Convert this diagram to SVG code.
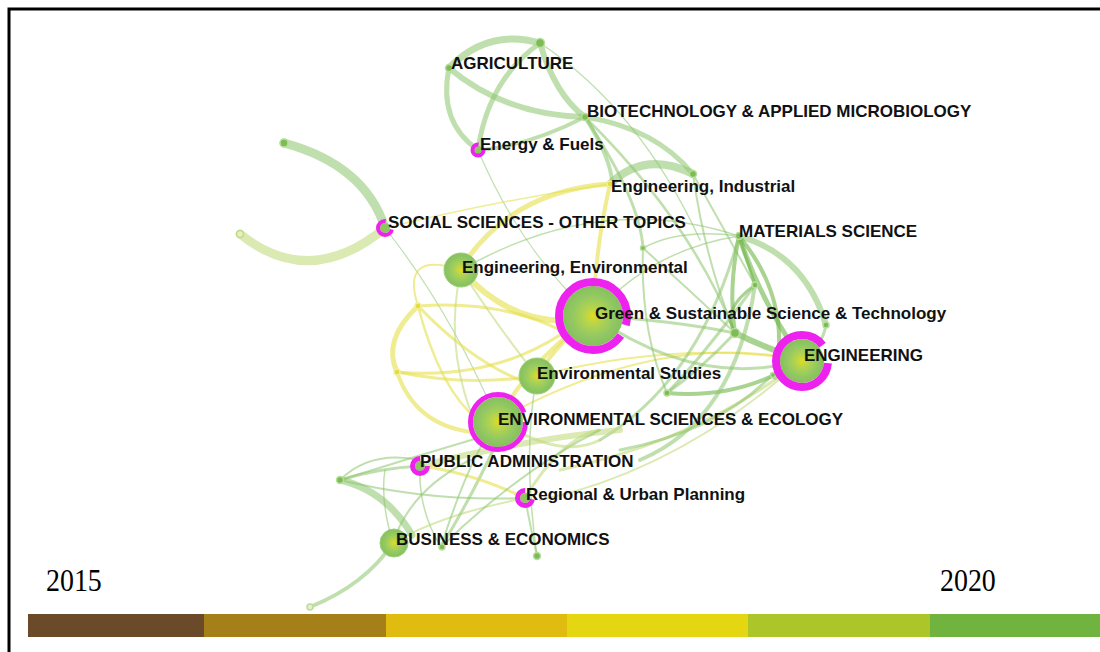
<svg xmlns="http://www.w3.org/2000/svg" width="1100" height="652" viewBox="0 0 1100 652">
<style>
.lbl{font-family:"Liberation Sans",Arial,sans-serif;font-weight:bold;font-size:17px;fill:#111}
.yr{font-family:"Liberation Serif","Times New Roman",serif;font-size:31px;fill:#000}
.g{fill:none;stroke:#8cc46b;stroke-opacity:.55;stroke-linecap:round}
.gd{fill:none;stroke:#6fb548;stroke-opacity:.6;stroke-linecap:round}
.y{fill:none;stroke:#e6df4a;stroke-opacity:.6;stroke-linecap:round}
.yg{fill:none;stroke:#c3da7e;stroke-opacity:.6;stroke-linecap:round}
.dot{fill:#7cbc55;stroke:#b9dd9c;stroke-width:1.5}
.ydot{fill:#e2dc3c;stroke:#f3ef9a;stroke-width:1.5}
.ring{fill:none;stroke:#ee22ee}
</style>
<defs>
<radialGradient id="ng" cx="50%" cy="50%" r="50%">
<stop offset="0" stop-color="#e0dc20"/>
<stop offset="0.3" stop-color="#b4d44e"/>
<stop offset="0.7" stop-color="#92c863"/>
<stop offset="1" stop-color="#86c05c"/>
</radialGradient>
</defs>
<rect x="0" y="0" width="1100" height="652" fill="#fff"/>
<path d="M9,652 V9 H1100" fill="none" stroke="#000" stroke-width="3"/>

<g id="connectors">
<path class="g" stroke-width="7" d="M449,68 Q488,28 540,43"/>
<path class="g" stroke-width="6" d="M449,68 Q505,115 585,117"/>
<path class="g" stroke-width="5" d="M449,68 Q438,122 478,150"/>
<path class="g" stroke-width="5" d="M540,43 Q488,80 478,150"/>
<path class="g" stroke-width="6" d="M540,43 Q555,95 585,117"/>
<path class="g" stroke-width="4" d="M585,117 Q530,145 482,150"/>
<path class="g" stroke-width="5" d="M585,117 Q655,128 693,174"/>
<path class="g" stroke-width="8" d="M610,184 Q645,150 693,174"/>
<path class="g" stroke-width="4" d="M585,117 Q612,160 612,184"/>
<path class="g" stroke-width="3" d="M585,117 Q640,200 643,248"/>
<path class="g" stroke-width="2.5" d="M585,117 Q690,220 735,333"/>
<path class="g" stroke-width="2" d="M693,174 Q705,260 735,333"/>
<path class="g" stroke-width="2" d="M693,174 Q730,240 755,285"/>
<path class="g" stroke-width="1.5" d="M540,43 Q640,110 700,240"/>
<path class="g" stroke-width="1.2" d="M478,150 Q520,250 593,316"/>
<path class="g" stroke-width="1.2" d="M385,228 Q450,310 497,420"/>
<path class="g" stroke-width="9" d="M284,143 Q365,165 385,228"/>
<path class="yg" stroke-width="9" d="M240,234 Q310,290 385,228"/>

<path class="y" stroke-width="5" d="M610,184 Q515,190 465,262"/>
<path class="y" stroke-width="4" d="M610,184 Q595,250 593,316"/>
<path class="y" stroke-width="6" d="M461,270 Q520,335 593,316"/>
<path class="y" stroke-width="5" d="M418,306 Q382,340 397,372"/>
<path class="y" stroke-width="4" d="M397,372 Q415,425 472,432"/>
<path class="y" stroke-width="3" d="M418,306 Q500,300 560,330"/>
<path class="y" stroke-width="3" d="M418,306 Q470,360 520,380"/>
<path class="y" stroke-width="2.5" d="M418,306 Q440,390 478,420"/>
<path class="y" stroke-width="3" d="M397,372 Q490,380 560,335"/>
<path class="y" stroke-width="3" d="M397,372 Q460,385 520,378"/>
<path class="y" stroke-width="2" d="M418,306 Q400,250 461,270"/>
<path class="yg" stroke-width="2" d="M461,270 Q445,340 470,410"/>
<path class="yg" stroke-width="2" d="M461,270 Q500,330 537,376"/>
<path class="y" stroke-width="4" d="M537,376 Q560,340 593,316"/>
<path class="y" stroke-width="4" d="M498,420 Q530,360 593,316"/>
<path class="y" stroke-width="2" d="M498,420 Q660,330 802,360"/>
<path class="y" stroke-width="2" d="M537,376 Q680,340 802,360"/>
<path class="y" stroke-width="1.5" d="M385,228 Q500,200 610,184"/>
<path class="g" stroke-width="3" d="M593,316 Q700,390 802,360"/>
<path class="g" stroke-width="1.5" d="M461,270 Q600,190 739,236"/>
<path class="g" stroke-width="1.5" d="M593,316 Q650,250 739,236"/>

<path class="gd" stroke-width="5" d="M739,236 Q760,300 802,360"/>
<path class="g" stroke-width="6" d="M739,236 Q805,255 826,325"/>
<path class="gd" stroke-width="4" d="M739,236 Q728,290 735,333"/>
<path class="gd" stroke-width="3" d="M739,236 Q750,270 755,285"/>
<path class="gd" stroke-width="4" d="M739,236 Q792,300 775,378"/>
<path class="gd" stroke-width="3" d="M755,285 Q720,310 735,333"/>
<path class="gd" stroke-width="6" d="M735,333 Q770,350 802,360"/>
<path class="g" stroke-width="3" d="M755,285 Q700,360 667,393"/>
<path class="g" stroke-width="3" d="M735,333 Q700,370 667,393"/>
<path class="gd" stroke-width="4" d="M667,393 Q740,400 802,360"/>
<path class="g" stroke-width="2" d="M643,248 Q700,300 735,333"/>
<path class="g" stroke-width="1.5" d="M739,236 Q680,228 643,248"/>
<path class="g" stroke-width="3" d="M593,316 Q670,320 735,333"/>
<path class="g" stroke-width="3" d="M826,325 Q822,347 802,360"/>
<path class="g" stroke-width="3" d="M739,236 Q700,380 600,440"/>
<path class="g" stroke-width="4" d="M755,285 Q735,420 640,460"/>
<path class="g" stroke-width="2" d="M643,248 Q640,330 667,393"/>
<path class="yg" stroke-width="3" d="M802,360 Q700,440 560,470"/>
<path class="g" stroke-width="3" d="M773,374 Q720,430 620,450"/>
<path class="yg" stroke-width="2" d="M802,360 Q680,470 540,500"/>

<path class="g" stroke-width="3" d="M340,480 Q380,468 420,466"/>
<path class="g" stroke-width="7" d="M340,480 Q385,490 412,535"/>
<path class="g" stroke-width="2" d="M340,480 Q420,455 498,432"/>
<path class="g" stroke-width="2" d="M340,480 Q430,502 525,498"/>
<path class="g" stroke-width="2" d="M340,480 Q370,450 420,460"/>
<path class="g" stroke-width="1.5" d="M420,466 Q418,510 441,547"/>
<path class="g" stroke-width="4" d="M393,543 Q365,585 310,607"/>
<path class="yg" stroke-width="2" d="M393,543 Q440,515 525,498"/>
<path class="g" stroke-width="3" d="M441,547 Q470,500 498,440"/>
<path class="g" stroke-width="2" d="M537,556 Q530,525 525,498"/>
<path class="y" stroke-width="3" d="M420,466 Q470,472 525,498"/>
<path class="yg" stroke-width="6" d="M420,466 Q520,440 620,430"/>
<path class="g" stroke-width="2" d="M393,543 Q410,490 470,460"/>
<path class="yg" stroke-width="3" d="M525,498 Q560,440 598,430"/>
<path class="g" stroke-width="2" d="M498,420 Q470,455 441,547"/>
<path class="g" stroke-width="1.5" d="M537,376 Q522,450 537,556"/>
<path class="g" stroke-width="2" d="M441,547 Q520,470 600,430"/>
<path class="g" stroke-width="1.5" d="M393,543 Q380,500 385,470"/>
<path class="yg" stroke-width="3" d="M498,420 Q560,460 600,440"/>
</g>

<g id="n-top"><circle class="dot" cx="540" cy="43" r="4.5"/></g>
<g id="n-farl"><circle class="dot" cx="284" cy="143" r="4"/></g>
<g id="n-farl2"><circle cx="240" cy="234" r="3.5" fill="#e6f0c8" stroke="#c3da7e" stroke-width="1.5"/></g>
<g id="n-ei2"><circle class="dot" cx="693" cy="174" r="3.5"/></g>
<g id="n-s1"><circle class="dot" cx="643" cy="248" r="2.5"/></g>
<g id="n-s2"><circle class="dot" cx="755" cy="285" r="3"/></g>
<g id="n-s3"><circle class="dot" cx="735" cy="333" r="4.5"/></g>
<g id="n-s4"><circle class="dot" cx="826" cy="325" r="3"/></g>
<g id="n-s5"><circle class="dot" cx="773" cy="375" r="2.5"/></g>
<g id="n-s6"><circle class="dot" cx="667" cy="393" r="3"/></g>
<g id="n-y1"><circle class="ydot" cx="418" cy="306" r="3"/></g>
<g id="n-y2"><circle class="ydot" cx="397" cy="372" r="3"/></g>
<g id="n-b1"><circle class="dot" cx="340" cy="480" r="3.5"/></g>
<g id="n-b2"><circle class="dot" cx="442" cy="547" r="3"/></g>
<g id="n-b3"><circle class="dot" cx="537" cy="556" r="3.5"/></g>
<g id="n-b4"><circle cx="310" cy="607" r="3" fill="#e6f0c8" stroke="#b9dd9c" stroke-width="1.5"/></g>

<g id="n-agriculture">
<circle class="dot" cx="449" cy="68" r="3.5"/>
<text class="lbl" x="451" y="69">AGRICULTURE</text>
</g>
<g id="n-biotech">
<circle class="dot" cx="585" cy="117" r="3.5"/>
<text class="lbl" x="587" y="117">BIOTECHNOLOGY &amp; APPLIED MICROBIOLOGY</text>
</g>
<g id="n-energy">
<circle cx="478" cy="150" r="4" fill="#8cc562"/>
<circle class="ring" cx="478" cy="150" r="5.5" stroke-width="4" stroke-dasharray="25.9 8.6" stroke-dashoffset="0"/>
<text class="lbl" x="480" y="150">Energy &amp; Fuels</text>
</g>
<g id="n-engind">
<circle class="ydot" cx="610" cy="184" r="3"/>
<text class="lbl" x="611" y="192">Engineering, Industrial</text>
</g>
<g id="n-social">
<circle cx="385" cy="228" r="5" fill="#8cc562"/>
<circle class="ring" cx="385" cy="228" r="7" stroke-width="4" stroke-dasharray="32 12" stroke-dashoffset="-1.5"/>
<text class="lbl" x="388" y="228">SOCIAL SCIENCES - OTHER TOPICS</text>
</g>
<g id="n-materials">
<circle class="dot" cx="739" cy="236" r="3.5"/>
<text class="lbl" x="739" y="237">MATERIALS SCIENCE</text>
</g>
<g id="n-engenv">
<circle cx="461" cy="270" r="17" fill="url(#ng)" stroke="#9ccf78" stroke-width="1"/>
<text class="lbl" x="462" y="273">Engineering, Environmental</text>
</g>
<g id="n-green">
<circle cx="593" cy="316" r="30" fill="url(#ng)"/>
<circle class="ring" cx="593" cy="316" r="34" stroke-width="8" stroke-dasharray="202 11.6" stroke-dashoffset="-20.8"/>
<text class="lbl" x="595" y="319">Green &amp; Sustainable Science &amp; Technology</text>
</g>
<g id="n-engineering">
<circle cx="802" cy="361" r="22" fill="url(#ng)"/>
<circle class="ring" cx="802" cy="361" r="26" stroke-width="8" stroke-dasharray="143 20.4" stroke-dashoffset="-2.3"/>
<text class="lbl" x="804" y="361">ENGINEERING</text>
</g>
<g id="n-envstudies">
<circle cx="537" cy="376" r="18" fill="url(#ng)" stroke="#9ccf78" stroke-width="1"/>
<text class="lbl" x="537" y="379">Environmental Studies</text>
</g>
<g id="n-ese">
<circle cx="498" cy="422" r="25" fill="url(#ng)"/>
<circle class="ring" cx="498" cy="422" r="27.5" stroke-width="5" stroke-dasharray="163 9.8" stroke-dashoffset="0"/>
<text class="lbl" x="498" y="425">ENVIRONMENTAL SCIENCES &amp; ECOLOGY</text>
</g>
<g id="n-public">
<circle cx="420" cy="466" r="5" fill="#8cc562"/>
<circle class="ring" cx="420" cy="466" r="7.5" stroke-width="5" stroke-dasharray="35.3 11.8" stroke-dashoffset="0"/>
<text class="lbl" x="420" y="467">PUBLIC ADMINISTRATION</text>
</g>
<g id="n-regional">
<circle cx="525" cy="498" r="5" fill="#8cc562"/>
<circle class="ring" cx="525" cy="498" r="7.5" stroke-width="5" stroke-dasharray="34 13" stroke-dashoffset="-1.3"/>
<text class="lbl" x="526" y="500">Regional &amp; Urban Planning</text>
</g>
<g id="n-business">
<circle cx="394" cy="543" r="14" fill="url(#ng)" stroke="#9ccf78" stroke-width="1"/>
<text class="lbl" x="396" y="545">BUSINESS &amp; ECONOMICS</text>
</g>

<g id="legend">
<text class="yr" transform="translate(46,591) scale(0.9,1)">2015</text>
<text class="yr" transform="translate(940,591) scale(0.9,1)">2020</text>
<rect x="28" y="614" width="176" height="23" fill="#6b4a2a"/>
<rect x="204" y="614" width="182" height="23" fill="#a58019"/>
<rect x="386" y="614" width="181" height="23" fill="#e0bc10"/>
<rect x="567" y="614" width="181" height="23" fill="#e4d712"/>
<rect x="748" y="614" width="182" height="23" fill="#acc529"/>
<rect x="930" y="614" width="170" height="23" fill="#70b43f"/>
</g>
</svg>
